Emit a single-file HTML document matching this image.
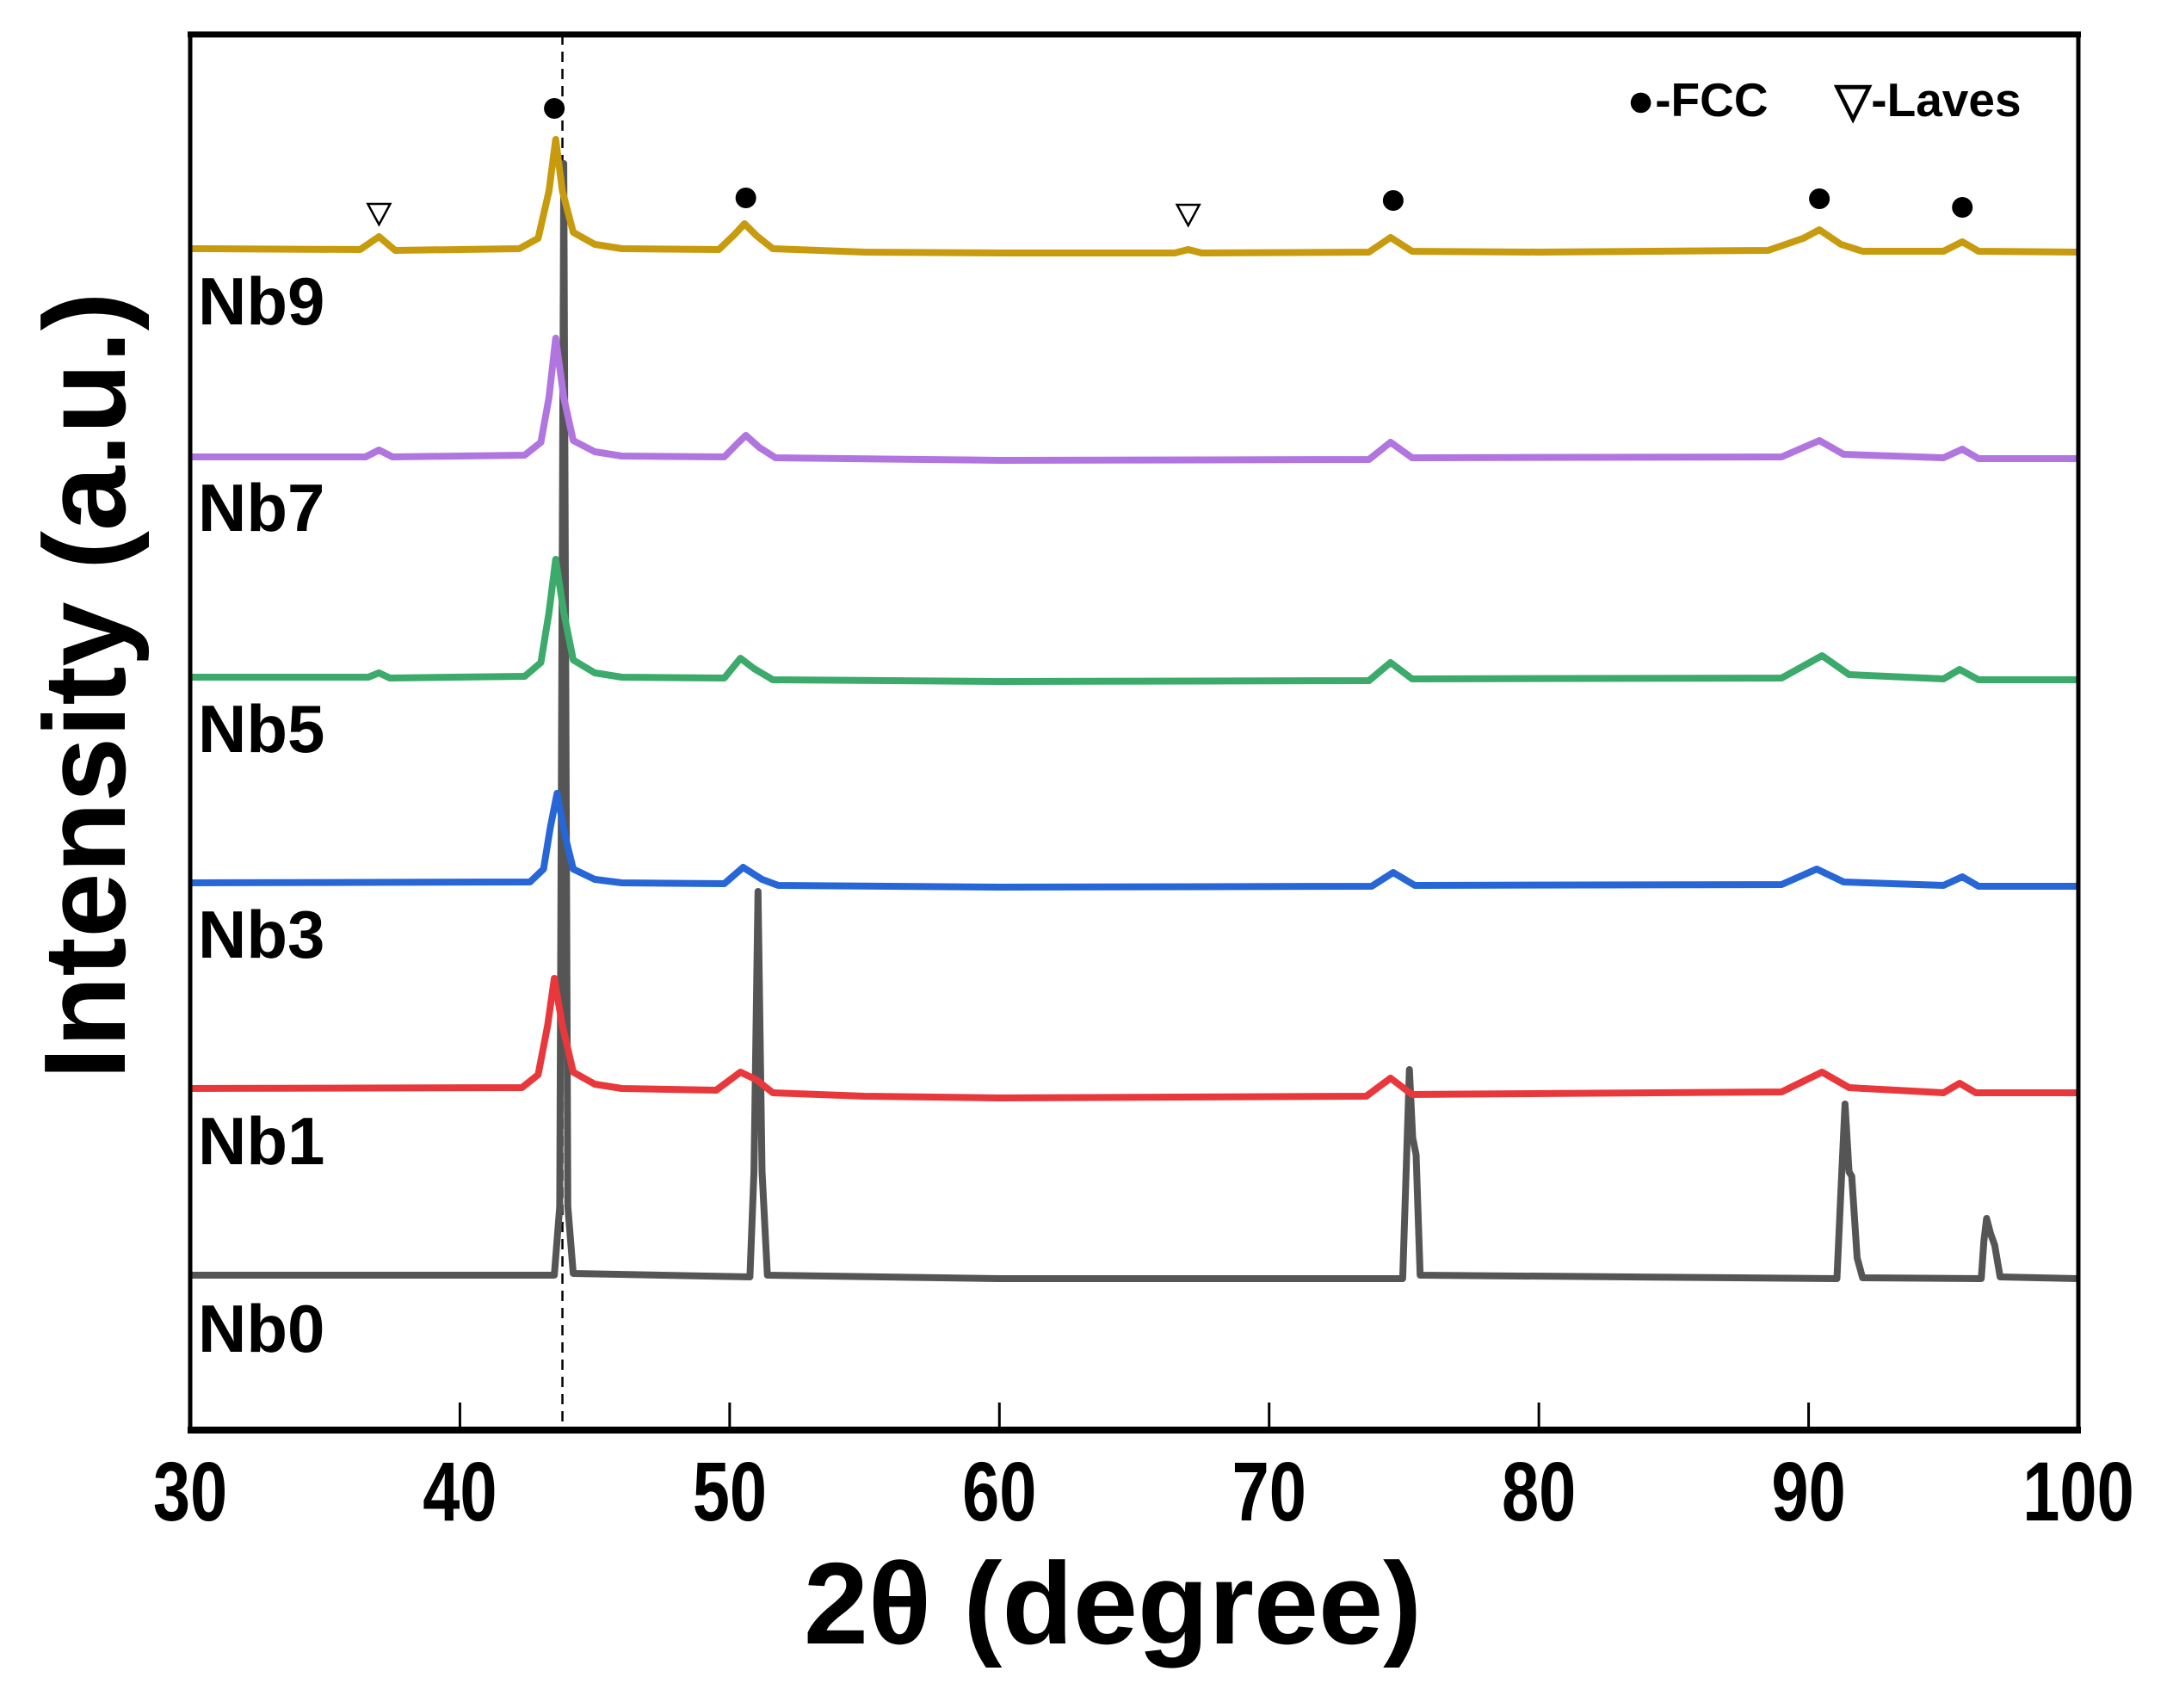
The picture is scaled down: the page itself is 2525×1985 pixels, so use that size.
<!DOCTYPE html>
<html><head><meta charset="utf-8"><style>
html,body{margin:0;padding:0;background:#fff}
svg{display:block}
text{font-family:"Liberation Sans",Arial,sans-serif;font-weight:bold;fill:#000}
</style></head><body>
<svg id="chart" width="2525" height="1985" viewBox="0 0 2525 1985" xmlns="http://www.w3.org/2000/svg">
<rect width="2525" height="1985" fill="#fff"/>
<g id="series"></g>
<g id="markers"></g>
<g id="axes"></g>
<text x="1890" y="135" font-size="55">●-FCC</text>
<text x="2132" y="135" font-size="55">▽-Laves</text>
<text x="1293" y="1910" font-size="135" text-anchor="middle">2θ (degree)</text>
<text x="0" y="0" font-size="135" text-anchor="middle" transform="translate(145,797) rotate(-90)">Intensity (a.u.)</text>
</svg>
<script>
const xTicks = [30,40,50,60,70,80,90,100];
const seriesNames = ["Nb0","Nb1","Nb3","Nb5","Nb7","Nb9"];
const seriesColors = ["#555555","#E8383C","#2666D6","#3BAA6A","#B175E0","#C89B0E"];
const nb0X = [30,43.5,43.7,43.85,44.0,44.2,50.75,50.9,51.05,51.2,51.4,60,74.95,75.08,75.2,75.32,75.45,75.6,91.05,91.2,91.35,91.5,91.6,91.8,92.0,96.4,96.5,96.6,96.75,96.9,97.1,100];
const nb0Y = [180,180,260,1472,260,182,178,300,626,300,180,176,176,300,419,340,320,180,176,280,379,300,295,200,177,176,220,246,228,215,178,176];
const nb1X = [30,42.3,42.9,43.25,43.5,43.8,44.2,45,46,49.5,50.4,51.0,51.6,55,60,73.6,74.5,75.3,89,90.5,91.5,95,95.6,96.2,100];
const nb1Y = [397,398,413,470,525,470,416,402,397,395,416,407,392,388,386,388,409,390,393,416,398,392,403,392,392];
const nb3X = [30,42.6,43.1,43.35,43.6,43.9,44.2,45,46,49.8,50.5,51.2,51.8,60,73.8,74.6,75.4,89,90.3,91.3,95,95.7,96.3,100];
const nb3Y = [636,637,652,700,740,690,652,640,636,635,654,640,633,631,632,648,633,634,652,637,633,643,632,632];
const nb5X = [30,36.6,37.0,37.4,42.4,43.0,43.3,43.55,43.85,44.2,45,46,49.8,50.4,50.9,51.6,60,73.7,74.5,75.3,89,90.5,91.5,95,95.6,96.3,100];
const nb5Y = [875,875,880,874,876,892,950,1012,950,895,880,875,874,897,885,872,870,871,892,873,874,900,878,873,884,872,872];
const nb7X = [30,36.5,37.0,37.5,42.4,43.0,43.3,43.55,43.85,44.2,45,46,49.8,50.3,50.6,51.1,51.7,60,73.7,74.5,75.3,89,90.4,91.3,95.0,95.7,96.3,100];
const nb7Y = [1131,1131,1139,1131,1133,1148,1200,1269,1200,1150,1137,1132,1131,1147,1156,1142,1130,1127,1128,1148,1130,1131,1150,1134,1130,1140,1129,1129];
const nb9X = [30,36.3,37.0,37.6,42.2,42.9,43.3,43.55,43.8,44.2,45,46,49.6,50.2,50.55,51.0,51.6,55,60,66.5,67.0,67.5,73.7,74.5,75.3,80,88.5,89.8,90.4,91.2,92,95.0,95.7,96.3,100];
const nb9Y = [1373,1372,1387,1371,1373,1385,1440,1500,1440,1392,1378,1373,1372,1390,1402,1388,1373,1369,1368,1368,1372,1368,1369,1386,1370,1369,1371,1385,1395,1378,1370,1370,1381,1370,1369];
const labelBaseline = [177,395,635,874,1131,1371];
const fccX = [43.5,50.6,74.6,90.4,95.7];
const fccY = [1536,1432,1429,1431,1421];
const lavesX = [37.0,67.0];
const lavesY = [1414,1413];
const refLineX = 43.8;

const L=221,R=2415,T=40,B=1662;
const xs = v => L + (v-30)*(R-L)/70;
const ys = v => B - v;
const NS="http://www.w3.org/2000/svg";
const mk=(t,a,p)=>{const e=document.createElementNS(NS,t);for(const k in a)e.setAttribute(k,a[k]);p.appendChild(e);return e;};
const sg=document.getElementById('series'), mg=document.getElementById('markers'), ag=document.getElementById('axes');
const allX=[nb0X,nb1X,nb3X,nb5X,nb7X,nb9X], allY=[nb0Y,nb1Y,nb3Y,nb5Y,nb7Y,nb9Y];

const dl=mk('line',{x1:xs(refLineX),x2:xs(refLineX),y1:T,y2:B,stroke:'#000','stroke-width':2.5,'stroke-dasharray':'12,8'},sg);



for(let i=0;i<allX.length;i++){
  const d=allX[i].map((x,j)=>(j?'L':'M')+xs(x).toFixed(1)+','+ys(allY[i][j]).toFixed(1)).join(' ');
  const p=mk('path',{d:d,fill:'none',stroke:seriesColors[i],'stroke-width':8,'stroke-linejoin':'round'},sg);
  
  
  const t=mk('text',{x:230,y:ys(labelBaseline[i])+86,'font-size':78},sg);
  t.textContent=seriesNames[i];
  
  
}
for(let i=0;i<fccX.length;i++){
  const c=mk('circle',{cx:xs(fccX[i]),cy:ys(fccY[i]),r:12,fill:'#000'},mg);
  
  
}
for(let i=0;i<lavesX.length;i++){
  const cx=xs(lavesX[i]), cy=ys(lavesY[i]);
  const p=mk('polygon',{points:`${cx-13},${cy-11} ${cx+13},${cy-11} ${cx},${cy+13}`,fill:'#fff',stroke:'#000','stroke-width':2.5},mg);
  
  
}
const fr=mk('rect',{x:L,y:T,width:R-L,height:B-T,fill:'none',stroke:'#000','stroke-width':5},ag);


const bl=mk('line',{x1:L-3,x2:R+3,y1:B,y2:B,stroke:'#000','stroke-width':8},ag);


const tl=mk('line',{x1:L-3,x2:R+3,y1:T,y2:T,stroke:'#000','stroke-width':7},ag);


for(const v of xTicks){
  const tk=mk('line',{x1:xs(v),x2:xs(v),y1:B,y2:B-32,stroke:'#000','stroke-width':3},ag);
  
  
  const t=mk('text',{x:0,y:0,'font-size':97,'text-anchor':'middle',transform:`translate(${xs(v)},1767) scale(0.8,1)`},ag);
  t.textContent=v;
  
  
}
</script>
</body></html>
